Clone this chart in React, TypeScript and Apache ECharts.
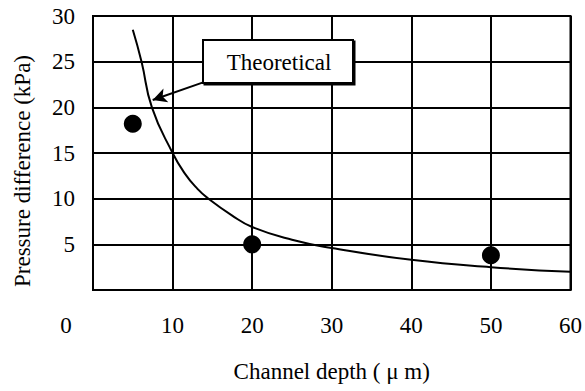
import React, { useEffect, useRef } from "react";
import * as echarts from "echarts";

const curveX = [5.0, 6.1, 7.4, 10, 11.5, 13.1, 14.5, 17.4, 20, 25, 30, 40, 50, 60];
const curveY = [28.5, 25, 20, 15, 12.8, 11.1, 10, 8.2, 6.9, 5.5, 4.6, 3.3, 2.5, 2.0];
const measuredX = [5, 20, 50];
const measuredY = [18.2, 5, 3.8];
const xTicks = [0, 10, 20, 30, 40, 50, 60];
const yTicks = [0, 5, 10, 15, 20, 25, 30];
const annotationText = "Theoretical";
const arrowFrom = [13.75, 22.7];
const arrowTo = [7.5, 20.8];

const FONT = "'Liberation Serif', 'Times New Roman', serif";

export default function App() {
  const ref = useRef<HTMLDivElement>(null);
  useEffect(() => {
    if (!ref.current) return;
    const chart = echarts.init(ref.current, null, { renderer: "svg" });
    chart.setOption({
      animation: false,
      backgroundColor: "#fff",
      grid: {
        left: 93,
        top: 16,
        right: 13,
        bottom: 101,
        show: true,
        borderColor: "#000",
        borderWidth: 2,
      },
      xAxis: {
        type: "value",
        min: xTicks[0],
        max: xTicks[xTicks.length - 1],
        interval: 10,
        name: "Channel depth ( \u03bc m)",
        nameLocation: "middle",
        nameGap: 70,
        nameTextStyle: { fontFamily: FONT, fontSize: 23, color: "#000" },
        axisLine: { lineStyle: { color: "#000", width: 2 } },
        axisTick: { show: false },
        splitLine: { show: true, lineStyle: { color: "#000", width: 2 } },
        axisLabel: {
          fontFamily: FONT,
          fontSize: 23,
          color: "#000",
          margin: 24,
          formatter: (v: number) => (v === 0 ? "{z|0}" : String(v)),
          rich: {
            z: { fontFamily: FONT, fontSize: 23, color: "#000", padding: [0, 54, 0, 0] },
          },
        },
      },
      yAxis: {
        type: "value",
        min: yTicks[0],
        max: yTicks[yTicks.length - 1],
        interval: 5,
        axisLine: { lineStyle: { color: "#000", width: 2 } },
        axisTick: { show: false },
        splitLine: { show: true, lineStyle: { color: "#000", width: 2 } },
        axisLabel: {
          fontFamily: FONT,
          fontSize: 23,
          color: "#000",
          margin: 18,
          formatter: (v: number) => (v === 0 ? "" : String(v)),
        },
      },
      graphic: [
        {
          type: "text",
          x: 22,
          y: 171,
          rotation: Math.PI / 2,
          style: {
            text: "Pressure difference (kPa)",
            fontFamily: FONT,
            fontSize: 23,
            fill: "#000",
            align: "center",
            verticalAlign: "middle",
          },
        },
        {
          type: "rect",
          shape: { x: 203, y: 40, width: 150, height: 43 },
          style: {
            fill: "#fff",
            stroke: "#000",
            lineWidth: 2,
            shadowColor: "#000",
            shadowOffsetX: 1.5,
            shadowOffsetY: 1.5,
            shadowBlur: 0,
          },
          z: 100,
        },
        {
          type: "text",
          x: 279,
          y: 62,
          z: 101,
          style: {
            text: annotationText,
            fontFamily: FONT,
            fontSize: 23,
            fill: "#000",
            align: "center",
            verticalAlign: "middle",
          },
        },
      ],
      series: [
        {
          type: "line",
          data: curveX.map((x, i) => [x, curveY[i]]),
          smooth: 0.5,
          showSymbol: false,
          lineStyle: { color: "#000", width: 2 },
          markLine: {
            silent: true,
            symbol: ["none", "arrow"],
            symbolSize: [11, 14],
            label: { show: false },
            lineStyle: { color: "#000", width: 2, type: "solid" },
            data: [[{ coord: arrowFrom }, { coord: arrowTo }]],
          },
        },
        {
          type: "scatter",
          data: measuredX.map((x, i) => [x, measuredY[i]]),
          symbol: "circle",
          symbolSize: 18,
          itemStyle: { color: "#000", opacity: 1 },
        },
      ],
    });
    return () => chart.dispose();
  }, []);
  return (
    <div
      ref={ref}
      style={{ position: "absolute", left: 0, top: 0, width: 585, height: 391 }}
    />
  );
}
